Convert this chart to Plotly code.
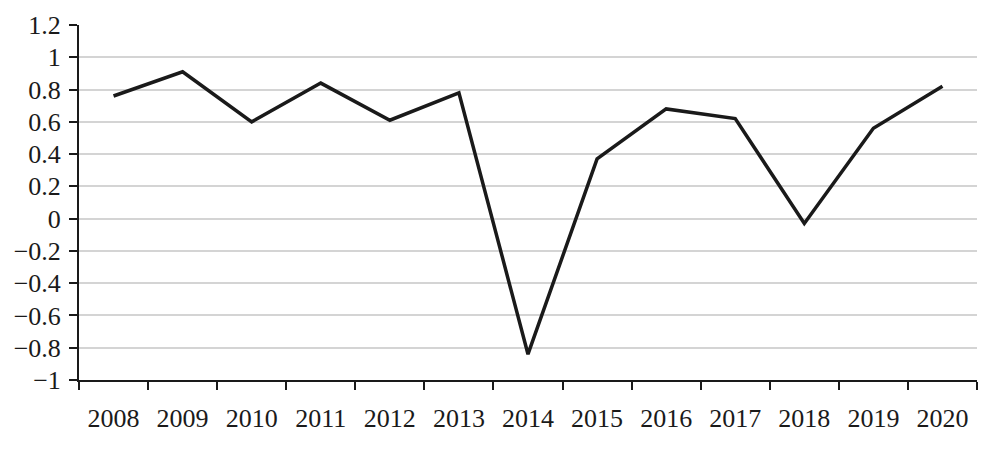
import plotly.graph_objects as go

years = ["2008", "2009", "2010", "2011", "2012", "2013", "2014",
         "2015", "2016", "2017", "2018", "2019", "2020"]
values = [0.76, 0.91, 0.60, 0.84, 0.61, 0.78, -0.84,
          0.37, 0.68, 0.62, -0.03, 0.56, 0.82]
y_ticks = [-1, -0.8, -0.6, -0.4, -0.2, 0, 0.2, 0.4, 0.6, 0.8, 1, 1.2]

fig = go.Figure()
fig.add_trace(go.Scatter(
    x=years, y=values, mode="lines",
    line=dict(color="#1a1a1a", width=3.5),
    showlegend=False,
))

font = dict(family="Liberation Serif, Times New Roman, serif", size=26, color="#1a1a1a")

# page body has an 8px default margin, so compensate here
fig.update_layout(
    width=987, height=457,
    margin=dict(l=71, r=18, t=17, b=85),
    paper_bgcolor="white", plot_bgcolor="white",
    font=font,
    xaxis=dict(
        type="category",
        tickson="boundaries",
        ticks="outside", ticklen=8, tickwidth=2, tickcolor="#1a1a1a",
        showline=True, linecolor="#1a1a1a", linewidth=2,
        showgrid=False, zeroline=False,
        ticklabelstandoff=14,
        range=[-0.5, 12.5],
        automargin=False,
    ),
    yaxis=dict(
        range=[-1, 1.2],
        tickvals=y_ticks,
        ticktext=[("\u2212" + f"{abs(v):g}") if v < 0 else f"{v:g}" for v in y_ticks],
        ticks="outside", ticklen=8, tickwidth=2, tickcolor="#1a1a1a",
        showline=True, linecolor="#1a1a1a", linewidth=2,
        showgrid=True, gridcolor="#d4d4d4", gridwidth=2,
        zeroline=False,
        ticklabelstandoff=3,
        automargin=False,
    ),
)

fig.write_html("out.html")
